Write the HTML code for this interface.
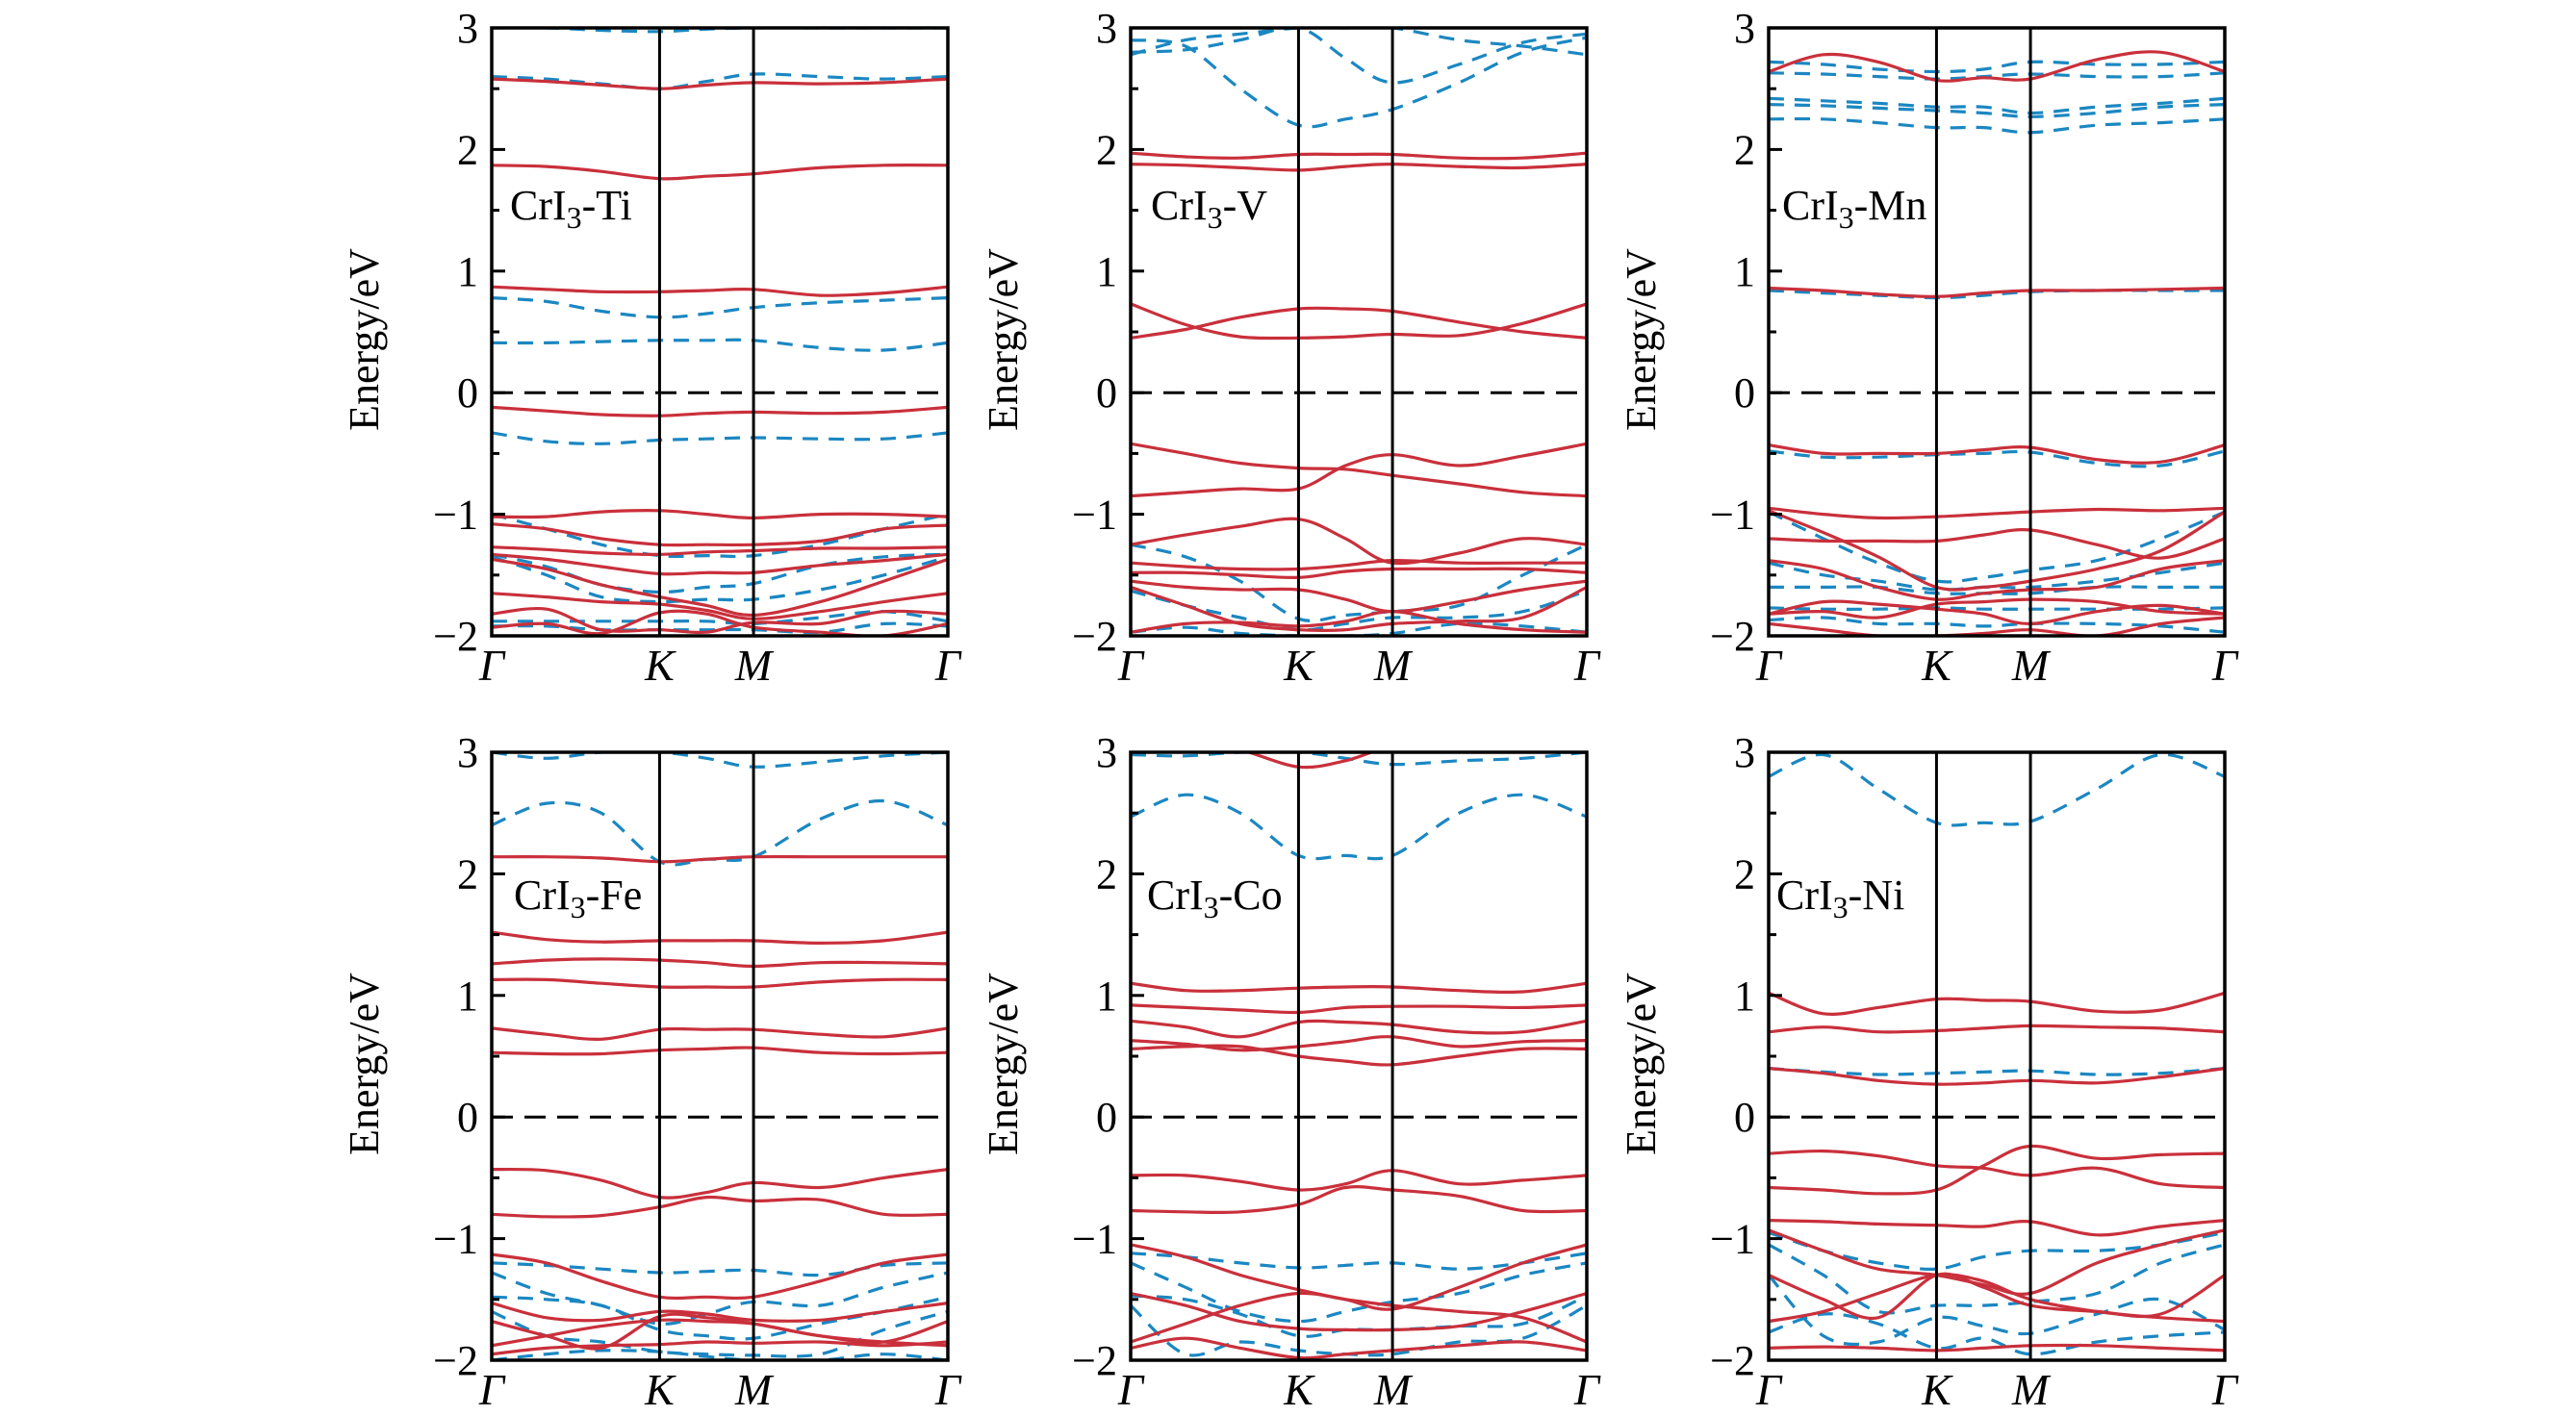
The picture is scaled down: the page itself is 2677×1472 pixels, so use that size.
<!DOCTYPE html>
<html><head><meta charset="utf-8"><style>
html,body{margin:0;padding:0;background:#fff;}
svg{display:block;}
</style></head><body>
<svg id="chart" width="2677" height="1472" viewBox="0 0 2677 1472" xmlns="http://www.w3.org/2000/svg"></svg>
<script>
// k-point fractions along Γ-K-M-Γ
const kFrac = [0, 0.12, 0.24, 0.368, 0.471, 0.574, 0.72, 0.86, 1.0];
const kLabels = ["Γ", "K", "M", "Γ"];
const kLabelFrac = [0, 0.368, 0.574, 1.0];
const yTicks = [-2, -1, 0, 1, 2, 3];
const yMinor = [-1.5, -0.5, 0.5, 1.5, 2.5];
const panelNames = ["Ti", "V", "Mn", "Fe", "Co", "Ni"];

const redTi = [
 [2.58,2.56,2.53,2.50,2.53,2.55,2.54,2.55,2.58],
 [1.87,1.86,1.82,1.76,1.78,1.80,1.85,1.87,1.87],
 [0.87,0.85,0.83,0.83,0.84,0.85,0.80,0.82,0.87],
 [-0.12,-0.15,-0.18,-0.19,-0.17,-0.16,-0.17,-0.16,-0.12],
 [-1.02,-1.02,-0.98,-0.97,-1.0,-1.03,-1.0,-1.0,-1.02],
 [-1.08,-1.12,-1.2,-1.25,-1.25,-1.25,-1.22,-1.12,-1.09],
 [-1.27,-1.29,-1.32,-1.33,-1.31,-1.30,-1.28,-1.28,-1.27],
 [-1.33,-1.37,-1.43,-1.49,-1.48,-1.48,-1.42,-1.38,-1.33],
 [-1.37,-1.45,-1.58,-1.68,-1.75,-1.83,-1.72,-1.55,-1.37],
 [-1.65,-1.68,-1.72,-1.74,-1.79,-1.86,-1.80,-1.72,-1.65],
 [-1.82,-1.78,-1.95,-1.95,-1.97,-1.89,-1.90,-1.80,-1.82],
 [-1.93,-1.9,-1.98,-1.81,-1.82,-1.93,-1.97,-2.0,-1.90]
];
const blueTi = [
 [3.0,3.0,2.98,2.97,2.99,3.0,3.0,3.0,3.0],
 [2.6,2.58,2.54,2.50,2.56,2.62,2.6,2.58,2.6],
 [0.78,0.75,0.67,0.62,0.65,0.70,0.74,0.76,0.78],
 [0.41,0.41,0.42,0.43,0.43,0.43,0.37,0.35,0.41],
 [-0.33,-0.40,-0.42,-0.39,-0.38,-0.37,-0.38,-0.38,-0.33],
 [-1.0,-1.12,-1.25,-1.34,-1.34,-1.34,-1.25,-1.12,-1.0],
 [-1.33,-1.43,-1.58,-1.64,-1.60,-1.57,-1.42,-1.35,-1.33],
 [-1.35,-1.5,-1.68,-1.72,-1.70,-1.70,-1.62,-1.5,-1.35],
 [-1.88,-1.88,-1.88,-1.88,-1.88,-1.9,-1.85,-1.8,-1.88],
 [-1.92,-1.92,-1.95,-1.95,-1.95,-1.95,-1.97,-1.9,-1.92]
];
const redV = [
 [1.97,1.94,1.93,1.96,1.96,1.96,1.93,1.93,1.97],
 [1.88,1.87,1.85,1.83,1.86,1.88,1.86,1.85,1.88],
 [0.73,0.56,0.46,0.45,0.46,0.48,0.47,0.57,0.73],
 [0.45,0.52,0.62,0.69,0.69,0.67,0.58,0.50,0.45],
 [-0.42,-0.5,-0.58,-0.62,-0.63,-0.68,-0.75,-0.82,-0.85],
 [-0.85,-0.82,-0.79,-0.79,-0.6,-0.51,-0.6,-0.52,-0.42],
 [-1.25,-1.17,-1.1,-1.04,-1.2,-1.4,-1.32,-1.2,-1.25],
 [-1.4,-1.43,-1.45,-1.45,-1.42,-1.38,-1.4,-1.4,-1.4],
 [-1.48,-1.48,-1.5,-1.52,-1.47,-1.45,-1.45,-1.45,-1.48],
 [-1.55,-1.6,-1.62,-1.62,-1.7,-1.8,-1.72,-1.62,-1.55],
 [-1.6,-1.75,-1.9,-1.95,-1.95,-1.9,-1.88,-1.85,-1.6],
 [-1.97,-1.9,-1.89,-1.92,-1.88,-1.8,-1.9,-1.95,-1.97]
];
const blueV = [
 [2.9,2.85,2.5,2.2,2.25,2.33,2.55,2.8,2.92],
 [2.8,2.82,2.9,3.0,2.75,2.55,2.7,2.88,2.95],
 [2.78,2.9,2.95,3.0,3.0,3.0,2.9,2.85,2.78],
 [-1.25,-1.35,-1.55,-1.86,-1.83,-1.8,-1.75,-1.5,-1.25],
 [-1.63,-1.75,-1.85,-1.95,-1.9,-1.85,-1.85,-1.8,-1.63],
 [-1.97,-1.93,-1.98,-2.0,-2.0,-1.98,-1.9,-1.92,-1.97]
];
const redMn = [
 [2.64,2.78,2.72,2.57,2.59,2.58,2.74,2.8,2.64],
 [0.86,0.84,0.81,0.79,0.82,0.84,0.84,0.85,0.86],
 [-0.43,-0.5,-0.5,-0.5,-0.47,-0.45,-0.55,-0.57,-0.43],
 [-0.95,-1.0,-1.03,-1.02,-1.0,-0.98,-0.96,-0.97,-0.95],
 [-1.2,-1.22,-1.22,-1.22,-1.17,-1.13,-1.25,-1.36,-1.2],
 [-0.97,-1.15,-1.35,-1.6,-1.6,-1.55,-1.45,-1.3,-0.98],
 [-1.38,-1.45,-1.6,-1.7,-1.65,-1.62,-1.6,-1.45,-1.38],
 [-1.82,-1.72,-1.74,-1.78,-1.82,-1.9,-1.8,-1.75,-1.82],
 [-1.82,-1.8,-1.85,-1.74,-1.72,-1.7,-1.72,-1.8,-1.82],
 [-1.9,-1.95,-2.0,-2.0,-1.98,-1.95,-2.0,-1.9,-1.85]
];
const blueMn = [
 [2.72,2.7,2.66,2.64,2.66,2.72,2.7,2.7,2.72],
 [2.63,2.62,2.6,2.58,2.6,2.62,2.6,2.6,2.63],
 [2.42,2.4,2.38,2.35,2.35,2.3,2.35,2.38,2.42],
 [2.37,2.36,2.34,2.32,2.3,2.27,2.3,2.35,2.37],
 [2.25,2.25,2.22,2.18,2.18,2.14,2.2,2.22,2.25],
 [0.84,0.82,0.8,0.78,0.8,0.83,0.84,0.84,0.84],
 [-0.48,-0.53,-0.53,-0.51,-0.5,-0.49,-0.58,-0.6,-0.48],
 [-0.98,-1.2,-1.4,-1.55,-1.52,-1.46,-1.38,-1.2,-0.98],
 [-1.4,-1.5,-1.55,-1.62,-1.6,-1.6,-1.55,-1.48,-1.4],
 [-1.6,-1.6,-1.6,-1.65,-1.65,-1.65,-1.6,-1.6,-1.6],
 [-1.77,-1.78,-1.78,-1.77,-1.78,-1.78,-1.78,-1.78,-1.77],
 [-1.87,-1.85,-1.9,-1.9,-1.92,-1.9,-1.9,-1.92,-1.97]
];
const redFe = [
 [2.14,2.14,2.13,2.1,2.12,2.14,2.14,2.14,2.14],
 [1.52,1.46,1.44,1.45,1.45,1.45,1.43,1.45,1.52],
 [1.26,1.29,1.30,1.29,1.27,1.24,1.27,1.27,1.26],
 [1.13,1.13,1.1,1.07,1.07,1.07,1.11,1.13,1.13],
 [0.73,0.68,0.64,0.72,0.72,0.72,0.68,0.66,0.73],
 [0.53,0.52,0.52,0.55,0.56,0.57,0.53,0.52,0.53],
 [-0.43,-0.44,-0.52,-0.66,-0.62,-0.54,-0.58,-0.5,-0.43],
 [-0.8,-0.82,-0.81,-0.74,-0.66,-0.69,-0.68,-0.8,-0.8],
 [-1.13,-1.2,-1.35,-1.48,-1.48,-1.48,-1.35,-1.2,-1.13],
 [-1.53,-1.65,-1.67,-1.6,-1.62,-1.67,-1.67,-1.6,-1.53],
 [-1.68,-1.8,-1.9,-1.64,-1.65,-1.7,-1.8,-1.85,-1.68],
 [-1.88,-1.8,-1.72,-1.67,-1.68,-1.7,-1.8,-1.85,-1.88],
 [-1.95,-1.9,-1.88,-1.87,-1.85,-1.86,-1.85,-1.88,-1.85]
];
const blueFe = [
 [2.4,2.58,2.5,2.1,2.12,2.14,2.45,2.6,2.4],
 [3.0,2.95,3.0,3.0,2.95,2.88,2.92,2.97,3.0],
 [-1.2,-1.22,-1.25,-1.28,-1.27,-1.26,-1.3,-1.22,-1.2],
 [-1.28,-1.45,-1.55,-1.7,-1.62,-1.52,-1.55,-1.4,-1.28],
 [-1.48,-1.5,-1.55,-1.75,-1.8,-1.82,-1.7,-1.6,-1.48],
 [-1.6,-1.8,-1.85,-1.93,-1.95,-1.96,-1.95,-1.75,-1.6],
 [-2.0,-1.95,-1.92,-1.93,-1.97,-2.0,-2.0,-1.95,-2.0]
];
const redCo = [
 [3.1,3.1,3.02,2.88,2.93,3.05,3.1,3.1,3.1],
 [1.1,1.04,1.04,1.06,1.07,1.07,1.04,1.03,1.1],
 [0.92,0.9,0.88,0.86,0.9,0.91,0.91,0.9,0.92],
 [0.79,0.74,0.66,0.78,0.78,0.76,0.70,0.7,0.79],
 [0.63,0.6,0.55,0.58,0.62,0.66,0.58,0.62,0.63],
 [0.56,0.58,0.58,0.5,0.46,0.43,0.5,0.56,0.56],
 [-0.48,-0.48,-0.53,-0.6,-0.55,-0.44,-0.55,-0.52,-0.48],
 [-0.77,-0.78,-0.78,-0.72,-0.58,-0.6,-0.65,-0.77,-0.77],
 [-1.05,-1.15,-1.3,-1.42,-1.5,-1.58,-1.4,-1.2,-1.05],
 [-1.45,-1.55,-1.68,-1.74,-1.75,-1.75,-1.72,-1.6,-1.45],
 [-1.85,-1.7,-1.55,-1.45,-1.5,-1.55,-1.6,-1.65,-1.85],
 [-1.9,-1.82,-1.9,-1.98,-1.95,-1.92,-1.88,-1.85,-1.92]
];
const blueCo = [
 [2.47,2.65,2.5,2.15,2.15,2.15,2.5,2.65,2.47],
 [2.98,2.97,3.0,3.0,2.95,2.9,2.93,2.95,3.0],
 [-1.12,-1.15,-1.2,-1.24,-1.22,-1.2,-1.25,-1.2,-1.12],
 [-1.2,-1.4,-1.6,-1.68,-1.6,-1.52,-1.45,-1.3,-1.2],
 [-1.47,-1.5,-1.62,-1.8,-1.75,-1.75,-1.72,-1.7,-1.47],
 [-1.55,-1.95,-1.85,-1.92,-1.95,-1.95,-1.85,-1.82,-1.55]
];
const redNi = [
 [1.02,0.85,0.9,0.97,0.96,0.95,0.87,0.88,1.02],
 [0.7,0.74,0.7,0.71,0.73,0.75,0.74,0.73,0.7],
 [0.4,0.36,0.3,0.27,0.28,0.3,0.28,0.33,0.4],
 [-0.3,-0.28,-0.32,-0.4,-0.42,-0.48,-0.42,-0.55,-0.58],
 [-0.58,-0.6,-0.63,-0.6,-0.4,-0.24,-0.34,-0.31,-0.3],
 [-0.85,-0.86,-0.88,-0.89,-0.9,-0.86,-0.97,-0.9,-0.85],
 [-0.93,-1.1,-1.25,-1.3,-1.38,-1.45,-1.2,-1.05,-0.93],
 [-1.3,-1.5,-1.65,-1.3,-1.4,-1.55,-1.6,-1.62,-1.3],
 [-1.68,-1.6,-1.45,-1.3,-1.35,-1.5,-1.6,-1.65,-1.68],
 [-1.9,-1.89,-1.9,-1.92,-1.9,-1.88,-1.88,-1.9,-1.92]
];
const blueNi = [
 [2.8,2.98,2.7,2.42,2.42,2.43,2.7,2.98,2.8],
 [0.4,0.37,0.35,0.36,0.37,0.38,0.35,0.36,0.4],
 [-0.95,-1.1,-1.2,-1.25,-1.15,-1.1,-1.1,-1.05,-0.95],
 [-1.05,-1.3,-1.6,-1.55,-1.55,-1.52,-1.45,-1.2,-1.05],
 [-1.3,-1.8,-1.85,-1.65,-1.72,-1.78,-1.62,-1.5,-1.75],
 [-1.77,-1.62,-1.7,-1.9,-1.82,-1.95,-1.85,-1.8,-1.77]
];
const redSets = [redTi, redV, redMn, redFe, redCo, redNi];
const blueSets = [blueTi, blueV, blueMn, blueFe, blueCo, blueNi];

const NS = "http://www.w3.org/2000/svg";
const svg = document.getElementById("chart");
const colX = [511, 1175, 1838], rowY = [29, 782];
const PW = 474, PH = 632;
const labelPos = [[530,228],[1196,228],[1852,228],[534,945],[1192,945],[1846,945]];

function mk(tag, attrs, parent){
  const e = document.createElementNS(NS, tag);
  for (const k in attrs) e.setAttribute(k, attrs[k]);
  (parent || svg).appendChild(e);
  return e;
}
function smoothPath(pts){
  let d = "M" + pts[0][0].toFixed(1) + "," + pts[0][1].toFixed(1);
  for (let i = 0; i < pts.length - 1; i++){
    const p0 = pts[Math.max(0,i-1)], p1 = pts[i], p2 = pts[i+1], p3 = pts[Math.min(pts.length-1,i+2)];
    const c1x = p1[0] + (p2[0]-p0[0])/6, c1y = p1[1] + (p2[1]-p0[1])/6;
    const c2x = p2[0] - (p3[0]-p1[0])/6, c2y = p2[1] - (p3[1]-p1[1])/6;
    d += " C" + c1x.toFixed(1)+","+c1y.toFixed(1)+" "+c2x.toFixed(1)+","+c2y.toFixed(1)+" "+p2[0].toFixed(1)+","+p2[1].toFixed(1);
  }
  return d;
}

const defs = mk("defs", {});
panelNames.forEach((nm, p) => {
  const x0 = colX[p % 3], y0 = rowY[Math.floor(p / 3)];
  const xs = f => x0 + f * PW;
  const ys = v => y0 + (3 - v) / 5 * PH;
  const cp = mk("clipPath", {id: "clip" + p}, defs);
  mk("rect", {x: x0, y: y0, width: PW, height: PH}, cp);

  const g = mk("g", {});
  
  

  const bands = mk("g", {"clip-path": "url(#clip" + p + ")"}, g);
  blueSets[p].forEach((band, i) => {
    const el = mk("path", {d: smoothPath(band.map((v, j) => [xs(kFrac[j]), ys(v)])), fill: "none", stroke: "#1b87c2", "stroke-width": 3.2, "stroke-dasharray": "16 11"}, bands);
    
    
  });
  redSets[p].forEach((band, i) => {
    const el = mk("path", {d: smoothPath(band.map((v, j) => [xs(kFrac[j]), ys(v)])), fill: "none", stroke: "#c9303b", "stroke-width": 3.2}, bands);
    
    
  });
  const fl = mk("line", {x1: x0, x2: x0 + PW, y1: ys(0), y2: ys(0), stroke: "#000", "stroke-width": 3, "stroke-dasharray": "22 12"}, g);
  
  
  [1, 2].forEach(i => {
    const l = mk("line", {x1: xs(kLabelFrac[i]), x2: xs(kLabelFrac[i]), y1: y0, y2: y0 + PH, stroke: "#000", "stroke-width": 3}, g);
    
    
  });
  const fr = mk("rect", {x: x0, y: y0, width: PW, height: PH, fill: "none", stroke: "#000", "stroke-width": 3.5}, g);
  
  
  yTicks.forEach(t => {
    const tk = mk("line", {x1: x0, x2: x0 + 14, y1: ys(t), y2: ys(t), stroke: "#000", "stroke-width": 3}, g);
    
    
    const tl = mk("text", {x: x0 - 14, y: ys(t) + 15, "text-anchor": "end", "font-family": "Liberation Serif, serif", "font-size": 44, fill: "#000"}, g);
    tl.textContent = t < 0 ? "\u2212" + Math.abs(t) : String(t);
    
    
  });
  yMinor.forEach(t => {
    const tk = mk("line", {x1: x0, x2: x0 + 8, y1: ys(t), y2: ys(t), stroke: "#000", "stroke-width": 3}, g);
    
    
  });
  kLabels.forEach((lb, i) => {
    const t = mk("text", {x: xs(kLabelFrac[i]), y: y0 + PH + 46, "text-anchor": "middle", "font-family": "Liberation Serif, serif", "font-style": "italic", "font-size": 46, fill: "#000"}, g);
    t.textContent = lb;
    
    
  });
  const yt = mk("text", {x: 0, y: 0, transform: "translate(" + (x0 - 118) + "," + (y0 + PH / 2 + 8) + ") rotate(-90)", "text-anchor": "middle", "font-family": "Liberation Serif, serif", "font-size": 44, fill: "#000"}, g);
  yt.textContent = "Energy/eV";
  
  
  const pl = mk("text", {x: labelPos[p][0], y: labelPos[p][1], "font-family": "Liberation Serif, serif", "font-size": 44, fill: "#000"}, g);
  
  
  pl.appendChild(document.createTextNode("CrI"));
  const sub = mk("tspan", {"font-size": 32, dy: 9}, pl);
  sub.textContent = "3";
  const rest = mk("tspan", {dy: -9}, pl);
  rest.textContent = "-" + nm;
});
</script>
</body></html>
